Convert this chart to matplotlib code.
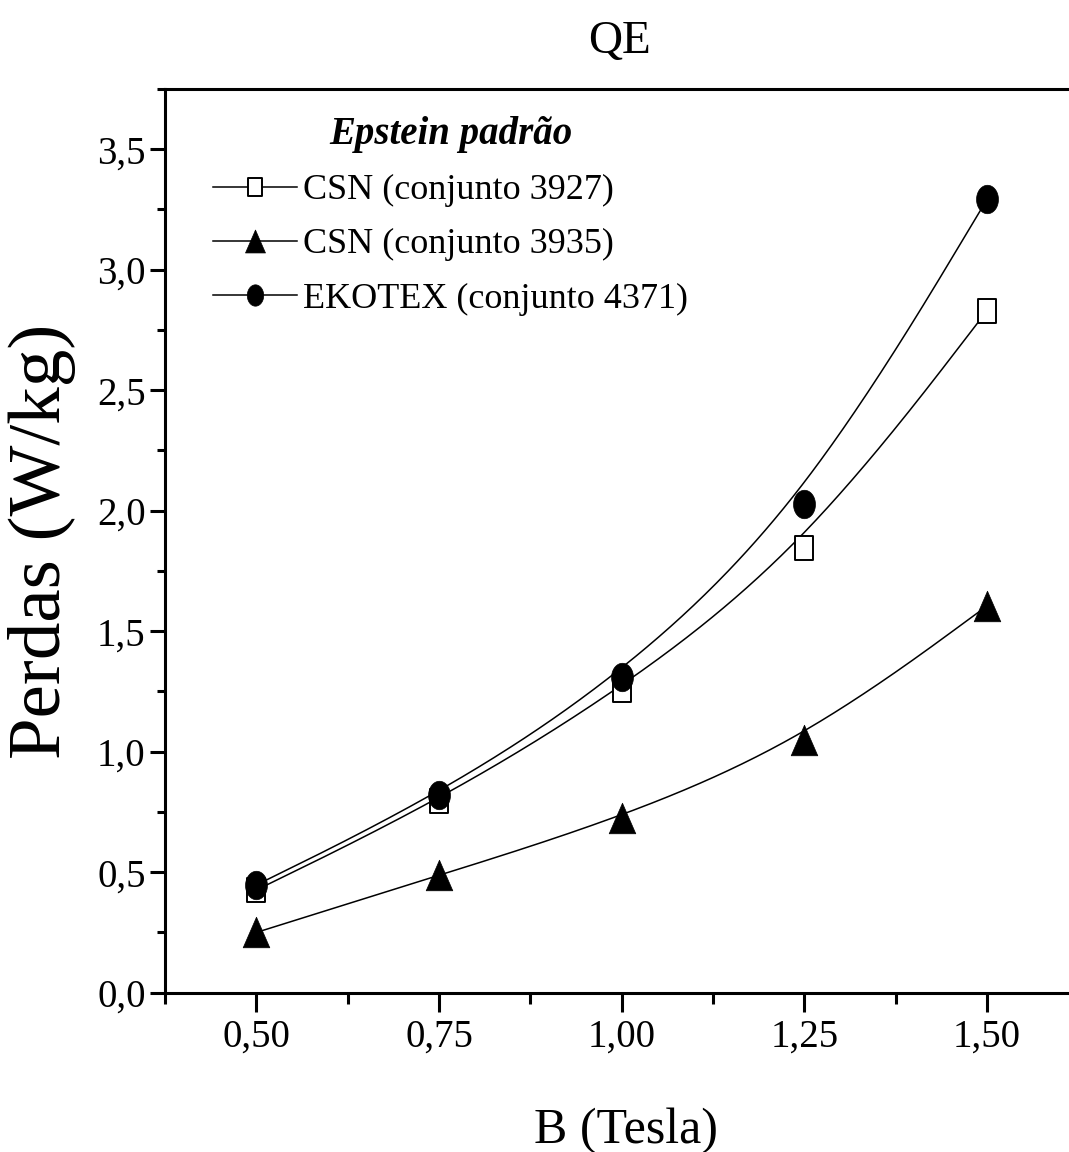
import numpy as np
import matplotlib
matplotlib.use("Agg")
import matplotlib.pyplot as plt
from matplotlib.path import Path
from matplotlib.lines import Line2D
from matplotlib.ticker import MultipleLocator, FixedLocator, FixedFormatter

plt.rcParams['font.family'] = ['Liberation Serif', 'DejaVu Serif']

# Magnetic induction (T) and specific losses (W/kg)
B_tesla = [0.50, 0.75, 1.00, 1.25, 1.50]
csn_3927 = [0.426, 0.796, 1.256, 1.844, 2.830]
csn_3935 = [0.250, 0.487, 0.725, 1.048, 1.605]
ekotex_4371 = [0.447, 0.820, 1.311, 2.028, 3.292]

series_labels = ["CSN (conjunto 3927)", "CSN (conjunto 3935)", "EKOTEX (conjunto 4371)"]
legend_title = "Epstein padrão"

x_ticks = [0.50, 0.75, 1.00, 1.25, 1.50]
x_tick_labels = ["0,50", "0,75", "1,00", "1,25", "1,50"]
y_ticks = [0.0, 0.5, 1.0, 1.5, 2.0, 2.5, 3.0, 3.5]
y_tick_labels = ["0,0", "0,5", "1,0", "1,5", "2,0", "2,5", "3,0", "3,5"]


def bspline(x, y, n=80):
    """Uniform cubic B-spline using the data points as control points
    (end points repeated so the curve starts and ends on them)."""
    P = np.column_stack([x, y]).astype(float)
    P = np.vstack([P[0], P[0], P, P[-1], P[-1]])
    t = np.linspace(0, 1, n)[:, None]
    b0 = (1 - t) ** 3 / 6
    b1 = (3 * t ** 3 - 6 * t ** 2 + 4) / 6
    b2 = (-3 * t ** 3 + 3 * t ** 2 + 3 * t + 1) / 6
    b3 = t ** 3 / 6
    segs = [b0 * P[i] + b1 * P[i + 1] + b2 * P[i + 2] + b3 * P[i + 3]
            for i in range(len(P) - 3)]
    c = np.vstack(segs)
    return c[:, 0], c[:, 1]


def ellipse_marker(aspect):
    th = np.linspace(0, 2 * np.pi, 73)
    v = np.column_stack([0.5 * np.cos(th) / aspect, 0.5 * np.sin(th)])
    return Path(v, closed=True)


def rect_marker(aspect):
    w = 0.5 / aspect
    v = [(-w, -0.5), (w, -0.5), (w, 0.5), (-w, 0.5), (-w, -0.5)]
    return Path(v, closed=True)


def tri_marker(ratio):
    w = 0.5 * ratio
    v = [(-w, -0.5), (w, -0.5), (0, 0.5), (-w, -0.5)]
    return Path(v, closed=True)


sq_m = rect_marker(1.3)
tri_m = tri_marker(27 / 31)
circ_m = ellipse_marker(1.3)

styles = [
    dict(marker=sq_m, ms=17, mfc='white', mec='black', mew=1.4),
    dict(marker=tri_m, ms=22, mfc='black', mec='black', mew=0.5),
    dict(marker=circ_m, ms=20.5, mfc='black', mec='black', mew=0.5),
]
data = [csn_3927, csn_3935, ekotex_4371]

fig = plt.figure(figsize=(10.69, 11.52), dpi=100)
W, H = 1069, 1152
ax_left, ax_bottom, ax_top = 165, 992.7, 89
ax = fig.add_axes([ax_left / W, 1 - ax_bottom / H, 1 - ax_left / W, (ax_bottom - ax_top) / H])

for y in data:
    cx, cy = bspline(B_tesla, y)
    ax.plot(cx, cy, color='black', lw=1.1, zorder=2)
for y, st in zip(data, styles):
    ax.plot(B_tesla, y, linestyle='none', zorder=3, **st)

ax.set_xlim(0.375, 0.375 + (W - ax_left) / 730.7)
ax.set_ylim(0, 3.75)

ax.xaxis.set_major_locator(FixedLocator(x_ticks))
ax.xaxis.set_major_formatter(FixedFormatter(x_tick_labels))
ax.xaxis.set_minor_locator(MultipleLocator(0.125))
ax.yaxis.set_major_locator(FixedLocator(y_ticks))
ax.yaxis.set_major_formatter(FixedFormatter(y_tick_labels))
ax.yaxis.set_minor_locator(MultipleLocator(0.25))

for s in ['left', 'bottom', 'top']:
    ax.spines[s].set_linewidth(2.2)
ax.spines['right'].set_visible(False)

ax.tick_params(axis='x', which='major', direction='out', length=14, width=2.2,
               labelsize=28, pad=5)
ax.tick_params(axis='x', which='minor', direction='out', length=8, width=2.2)
ax.tick_params(axis='y', which='major', direction='out', length=11, width=2.2,
               labelsize=28, pad=3)
ax.tick_params(axis='y', which='minor', direction='out', length=6, width=2.2)

handles = [Line2D([], [], color='black', lw=1.1, **st) for st in styles]
leg = ax.legend(handles, series_labels, title=legend_title,
                loc='upper left', bbox_to_anchor=(213 / W, 1 - 116 / H),
                bbox_transform=fig.transFigure, frameon=False, fontsize=26,
                title_fontproperties={'weight': 'bold', 'style': 'italic', 'size': 28},
                handlelength=2.33, handletextpad=0.17, labelspacing=0.58,
                borderpad=0, borderaxespad=0, markerscale=0.75, numpoints=1)

fig.text(620 / W, 1 - 53 / H, "QE", ha='center', va='baseline', fontsize=34)
fig.text(626 / W, 1 - 1143 / H, "B (Tesla)", ha='center', va='baseline', fontsize=36)
fig.text(60 / W, 1 - 541 / H, "Perdas (W/kg)", ha='center', va='baseline',
         rotation=90, rotation_mode='anchor', fontsize=54)

fig.savefig("out.png", dpi=100)
